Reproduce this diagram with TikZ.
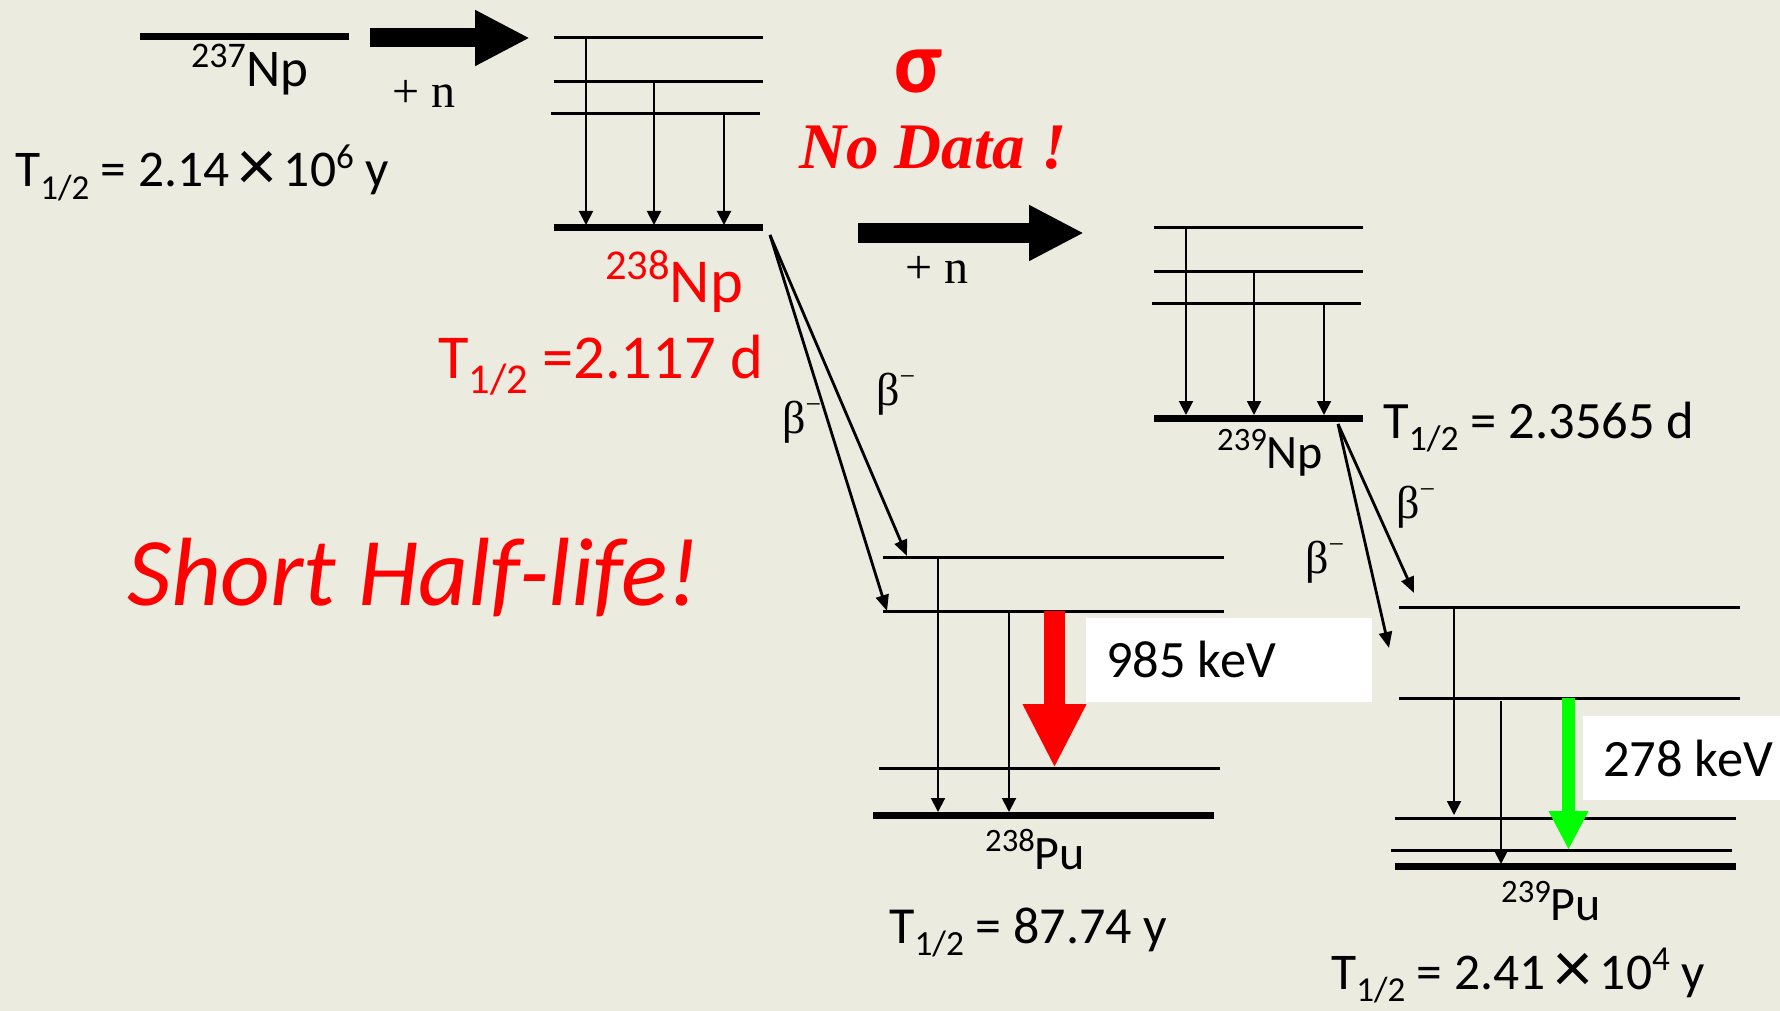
\documentclass[tikz,border=0pt]{standalone}
\usepackage{fontspec}
\usetikzlibrary{arrows.meta}
\setmainfont{Carlito}
\newfontfamily\timesfont{Liberation Serif}
\definecolor{slidebg}{RGB}{235,235,224}
\definecolor{puregreen}{RGB}{0,255,0}
\newcommand{\upnum}[1]{\raisebox{.36em}{\scalebox{.68}{#1}}}
\newcommand{\lownum}[1]{\raisebox{-.24em}{\scalebox{.68}{#1}}}
\newcommand{\hlife}{T\lownum{1/2}}
\newcommand{\bigtimes}{\,\raisebox{-.06em}{\scalebox{1.45}{×}}\,}
\newcommand{\betaminus}{{\timesfont β\raisebox{.42em}{\scalebox{.6}{−}}}}
\newcommand{\fsz}[1]{\fontsize{#1}{#1}\selectfont}
\tikzset{
  level/.style={line width=3pt},
  groundlevel/.style={line width=7pt},
  gam/.style={line width=2pt, -{Triangle[length=14pt,width=14pt]}},
  decay/.style={line width=2.8pt, -{Triangle[length=16pt,width=13pt]}},
  bigarrow/.style={line width=19pt, -{Triangle[length=55pt,width=52pt]}},
  txt/.style={anchor=base west, inner sep=0pt},
  keybox/.style={fill=white, anchor=north west, inner sep=0pt},
}
\begin{document}
\begin{tikzpicture}[x=1pt,y=-1pt]
  \useasboundingbox (0,0) rectangle (1780,1011);
  \fill[slidebg] (0,0) rectangle (1780,1011);

  % white boxes behind the energies
  \node[keybox, minimum width=286pt, minimum height=84pt] (box985) at (1086,618) {};
  \node[keybox, minimum width=197pt, minimum height=84pt] (box278) at (1583,716) {};

  % levels: name/left/right/height
  \foreach \n/\xa/\xb/\yy in {
    npsevA/554/763/38, npsevB/554/763/82, npsevC/551/760/114,
    npnineA/1154/1363/228, npnineB/1154/1363/271, npnineC/1152/1361/303,
    pueightA/883/1224/557, pueightB/883/1224/611, pueightC/879/1220/768,
    punineA/1399/1740/607, punineB/1399/1740/698, punineC/1395/1736/818, punineD/1391/1732/850}{
    \draw[level] (\xa,\yy) coordinate (\n) -- (\xb,\yy) coordinate (\n r);
  }
  \foreach \n/\xa/\xb/\yy in {
    npsev/140/349/37, npsevG/554/763/228, npnineG/1154/1363/418,
    pueightG/873/1214/815, punineG/1395/1736/866}{
    \draw[groundlevel] (\xa,\yy) coordinate (\n) -- (\xb,\yy) coordinate (\n r);
  }

  % gamma lines
  \foreach \xx/\a/\b in {586/npsevA/npsevG, 654/npsevB/npsevG, 724/npsevC/npsevG,
    1186/npnineA/npnineG, 1254/npnineB/npnineG, 1324/npnineC/npnineG,
    938/pueightA/pueightG, 1009/pueightB/pueightG}{
    \draw[gam, shorten >=3pt] (\xx,0 |- \a) -- (\xx,0 |- \b);
  }
  \coordinate (endA) at (1454,815);
  \coordinate (startB) at (1501,701);
  \draw[gam] (1454,0 |- punineA) -- (endA);
  \draw[gam, shorten >=2pt] (startB) -- (1501,0 |- punineG);

  % beta decays
  \coordinate (betaup) at (770,235);
  \coordinate (betalow) at (1338,424);
  \coordinate (hitA) at (907,556);
  \coordinate (hitB) at (887,611);
  \coordinate (hitC) at (1414,593);
  \coordinate (hitD) at (1389,648);
  \draw[decay] (betaup) -- (hitA);
  \draw[decay] (betaup) -- (hitB);
  \draw[decay] (betalow) -- (hitC);
  \draw[decay] (betalow) -- (hitD);

  % neutron capture
  \coordinate (capA) at (370,38);
  \coordinate (capB) at (530,38);
  \coordinate (capC) at (858,233);
  \coordinate (capD) at (1084,233);
  \draw[bigarrow] (capA) -- (capB);
  \draw[bigarrow] (capC) -- (capD);

  % gamma energies
  \coordinate (redA) at (1054.5,611);
  \coordinate (redB) at (1054.5,768);
  \coordinate (greenA) at (1568.5,698);
  \coordinate (greenB) at (1568.5,850);
  \draw[line width=21pt, red, -{Triangle[length=64pt,width=59pt]}] (redA) -- (redB);
  \draw[line width=13pt, puregreen, -{Triangle[length=39pt,width=37pt]}] (greenA) -- (greenB);

  \node[txt, font=\fsz{52.5}] (keveight) at (1106,677) {985 keV};
  \node[txt, font=\fsz{52.5}] (kevnine) at (1603,776) {278 keV};

  % labels
  \node[txt, font=\fsz{53}] (labA) at (191,87) {\upnum{237}Np};
  \node[txt, font=\fsz{51.5}] (labB) at (15,187) {\hlife\ = 2.14\bigtimes 10\upnum{6} y};
  \node[txt, font=\fsz{62.5}, red] (labC) at (605,302) {\upnum{238}Np};
  \node[txt, font=\fsz{62.5}, red] (labD) at (438,378) {\hlife\ =2.117 d};
  \node[txt, font=\fsz{48}] (labE) at (1217,468) {\upnum{239}Np};
  \node[txt, font=\fsz{52.5}] (labF) at (1383,438) {\hlife\ = 2.3565 d};
  \node[txt, font=\fsz{48}] (labG) at (985,869) {\upnum{238}Pu};
  \node[txt, font=\fsz{52}] (labH) at (889,943) {\hlife\ = 87.74 y};
  \node[txt, font=\fsz{48}] (labI) at (1501,920) {\upnum{239}Pu};
  \node[txt, font=\fsz{51.5}] (labJ) at (1331,989) {\hlife\ = 2.41\bigtimes 10\upnum{4} y};

  \node[txt, font=\timesfont\fsz{48}] (plusA) at (392,108) {+ n};
  \node[txt, font=\timesfont\fsz{48}] (plusB) at (905,283) {+ n};
  \node[txt, font=\fsz{46}] (betaA) at (876,405) {\betaminus};
  \node[txt, font=\fsz{46}] (betaB) at (782,433) {\betaminus};
  \node[txt, font=\fsz{46}] (betaC) at (1396,518) {\betaminus};
  \node[txt, font=\fsz{46}] (betaD) at (1305,573) {\betaminus};

  \node[txt, font=\fsz{88}\bfseries, red] (sigma) at (894,93) {σ};
  \node[txt, font=\timesfont\fsz{65}\bfseries\itshape, red] (nodata) at (799,169) {No Data !};
  \node[txt, font=\fsz{97}\itshape, red] (short) at (127,605) {Short Half-life!};
\end{tikzpicture}
\end{document}
